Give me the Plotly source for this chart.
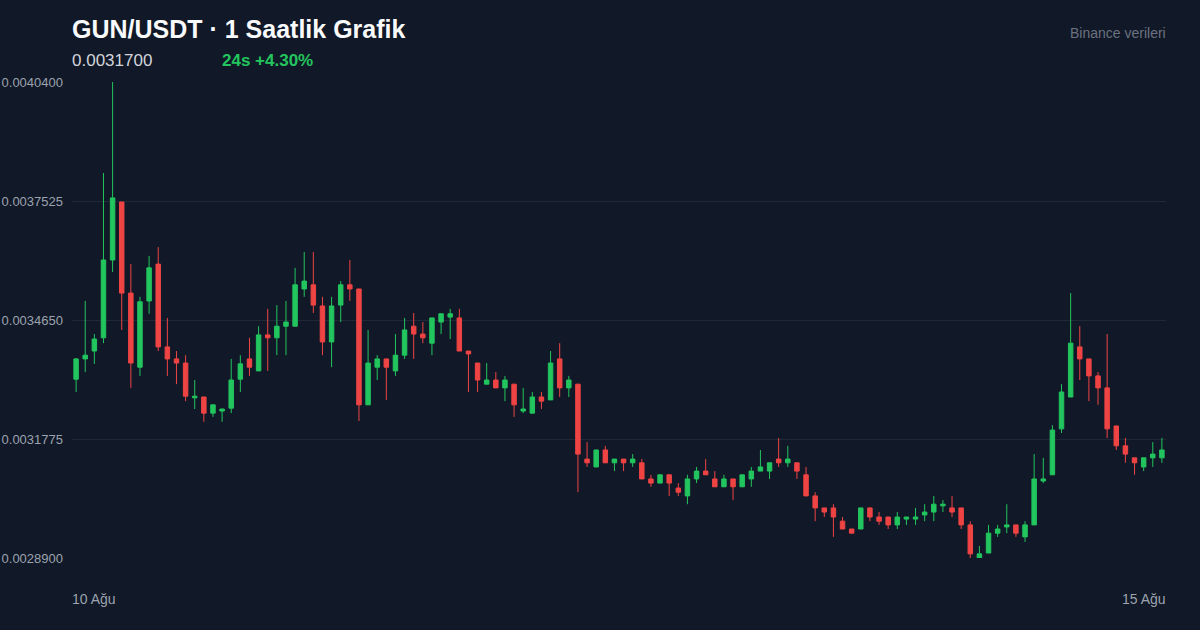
"""
GUN/USDT hourly candles - dark theme, plotly graph objects
"""

import pandas as pd
import plotly.graph_objects as go

# hourly candles, 10 Aug -> 15 Aug
open_ = [
    0.003322, 0.003371, 0.003390, 0.003422, 0.003610, 0.003750, 0.003530, 0.003351, 0.003511, 0.003600,
    0.003400, 0.003371, 0.003361, 0.003277, 0.003279, 0.003240, 0.003245, 0.003252, 0.003322, 0.003371,
    0.003342, 0.003429, 0.003422, 0.003450, 0.003450, 0.003540, 0.003550, 0.003499, 0.003412, 0.003501,
    0.003550, 0.003540, 0.003260, 0.003351, 0.003371, 0.003342, 0.003380, 0.003450, 0.003431, 0.003409,
    0.003460, 0.003472, 0.003470, 0.003390, 0.003361, 0.003310, 0.003320, 0.003301, 0.003310, 0.003245,
    0.003240, 0.003279, 0.003272, 0.003371, 0.003301, 0.003310, 0.003129, 0.003110, 0.003151, 0.003120,
    0.003129, 0.003120, 0.003120, 0.003081, 0.003071, 0.003091, 0.003059, 0.003040, 0.003081, 0.003100,
    0.003081, 0.003062, 0.003081, 0.003062, 0.003081, 0.003100, 0.003100, 0.003129, 0.003120, 0.003120,
    0.003091, 0.003040, 0.003011, 0.003011, 0.002979, 0.002960, 0.002960, 0.003011, 0.002989, 0.002989,
    0.002970, 0.002984, 0.002984, 0.002994, 0.003001, 0.003016, 0.003011, 0.003011, 0.002970, 0.002890,
    0.002902, 0.002950, 0.002965, 0.002970, 0.002941, 0.002970, 0.003076, 0.003091, 0.003202, 0.003279,
    0.003400, 0.003371, 0.003330, 0.003301, 0.003209, 0.003161, 0.003132, 0.003110, 0.003132, 0.003132,
]
high = [
    0.003373, 0.003511, 0.003431, 0.003820, 0.004040, 0.003750, 0.003600, 0.003521, 0.003620, 0.003641,
    0.003470, 0.003390, 0.003380, 0.003320, 0.003279, 0.003260, 0.003250, 0.003371, 0.003380, 0.003422,
    0.003450, 0.003492, 0.003501, 0.003511, 0.003591, 0.003629, 0.003629, 0.003521, 0.003521, 0.003559,
    0.003610, 0.003540, 0.003441, 0.003380, 0.003371, 0.003431, 0.003470, 0.003482, 0.003460, 0.003470,
    0.003480, 0.003492, 0.003492, 0.003390, 0.003361, 0.003361, 0.003339, 0.003330, 0.003310, 0.003301,
    0.003291, 0.003291, 0.003390, 0.003409, 0.003330, 0.003310, 0.003170, 0.003151, 0.003161, 0.003129,
    0.003129, 0.003141, 0.003129, 0.003091, 0.003091, 0.003091, 0.003071, 0.003091, 0.003110, 0.003129,
    0.003100, 0.003091, 0.003081, 0.003091, 0.003110, 0.003151, 0.003120, 0.003180, 0.003161, 0.003120,
    0.003110, 0.003049, 0.003011, 0.003020, 0.002989, 0.002960, 0.003011, 0.003011, 0.003001, 0.002989,
    0.003001, 0.002989, 0.003011, 0.003020, 0.003040, 0.003030, 0.003040, 0.003011, 0.002979, 0.002919,
    0.002970, 0.002970, 0.003020, 0.002970, 0.002979, 0.003141, 0.003132, 0.003211, 0.003310, 0.003530,
    0.003450, 0.003371, 0.003339, 0.003431, 0.003209, 0.003180, 0.003132, 0.003132, 0.003170, 0.003180,
]
low = [
    0.003291, 0.003339, 0.003359, 0.003409, 0.003581, 0.003441, 0.003301, 0.003330, 0.003480, 0.003390,
    0.003330, 0.003310, 0.003269, 0.003250, 0.003219, 0.003231, 0.003219, 0.003240, 0.003291, 0.003330,
    0.003342, 0.003342, 0.003380, 0.003380, 0.003450, 0.003521, 0.003482, 0.003380, 0.003351, 0.003460,
    0.003511, 0.003221, 0.003260, 0.003320, 0.003272, 0.003330, 0.003371, 0.003371, 0.003409, 0.003380,
    0.003431, 0.003419, 0.003390, 0.003291, 0.003291, 0.003310, 0.003301, 0.003269, 0.003231, 0.003240,
    0.003240, 0.003250, 0.003272, 0.003279, 0.003279, 0.003049, 0.003110, 0.003110, 0.003120, 0.003100,
    0.003100, 0.003110, 0.003081, 0.003062, 0.003071, 0.003040, 0.003040, 0.003020, 0.003071, 0.003091,
    0.003062, 0.003062, 0.003030, 0.003062, 0.003062, 0.003100, 0.003081, 0.003110, 0.003110, 0.003081,
    0.003040, 0.002979, 0.002989, 0.002941, 0.002960, 0.002950, 0.002960, 0.002979, 0.002970, 0.002960,
    0.002960, 0.002970, 0.002970, 0.002979, 0.002979, 0.003001, 0.002989, 0.002960, 0.002890, 0.002890,
    0.002902, 0.002941, 0.002950, 0.002941, 0.002929, 0.002970, 0.003071, 0.003091, 0.003192, 0.003279,
    0.003320, 0.003269, 0.003260, 0.003180, 0.003151, 0.003120, 0.003091, 0.003100, 0.003110, 0.003120,
]
close = [
    0.003371, 0.003380, 0.003419, 0.003610, 0.003760, 0.003530, 0.003361, 0.003509, 0.003591, 0.003400,
    0.003371, 0.003361, 0.003281, 0.003281, 0.003240, 0.003260, 0.003250, 0.003320, 0.003359, 0.003351,
    0.003429, 0.003422, 0.003450, 0.003460, 0.003550, 0.003559, 0.003501, 0.003412, 0.003499, 0.003550,
    0.003540, 0.003260, 0.003361, 0.003371, 0.003351, 0.003380, 0.003441, 0.003431, 0.003422, 0.003470,
    0.003480, 0.003480, 0.003390, 0.003383, 0.003320, 0.003320, 0.003301, 0.003320, 0.003260, 0.003250,
    0.003279, 0.003269, 0.003361, 0.003301, 0.003320, 0.003141, 0.003120, 0.003151, 0.003120, 0.003129,
    0.003120, 0.003129, 0.003081, 0.003071, 0.003091, 0.003071, 0.003049, 0.003081, 0.003100, 0.003091,
    0.003062, 0.003081, 0.003062, 0.003091, 0.003100, 0.003110, 0.003120, 0.003120, 0.003129, 0.003100,
    0.003040, 0.003011, 0.003001, 0.002989, 0.002960, 0.002950, 0.003011, 0.002989, 0.002979, 0.002970,
    0.002989, 0.002989, 0.002989, 0.003001, 0.003020, 0.003020, 0.003001, 0.002970, 0.002900, 0.002900,
    0.002950, 0.002960, 0.002970, 0.002950, 0.002970, 0.003081, 0.003081, 0.003199, 0.003291, 0.003409,
    0.003371, 0.003330, 0.003301, 0.003202, 0.003161, 0.003141, 0.003120, 0.003132, 0.003141, 0.003151,
]

times = pd.date_range('2025-08-10 00:00', periods=len(close), freq='h')

y_ticks = [0.0028900, 0.0031775, 0.0034650, 0.0037525, 0.0040400]
y_ticktext = ['0.0028900', '0.0031775', '0.0034650', '0.0037525', '0.0040400']

title_text = 'GUN/USDT · 1 Saatlik Grafik'
last_price = '0.0031700'
change_24h = '24s +4.30%'
source_text = 'Binance verileri'
x_start_label = '10 Ağu'
x_end_label = '15 Ağu'

BG = '#111827'
GRID = '#1f2937'
GREEN = '#22c55e'
RED = '#ef4444'
FONT = 'Liberation Sans, Arial, sans-serif'

fig = go.Figure()

fig.add_trace(go.Candlestick(
    x=times,
    open=open_,
    high=high,
    low=low,
    close=close,
    increasing=dict(line=dict(color=GREEN, width=1), fillcolor=GREEN),
    decreasing=dict(line=dict(color=RED, width=1), fillcolor=RED),
    whiskerwidth=0,
    showlegend=False,
    hoverinfo='skip',
))

# small padding so first / last candle are not cut in half
pad = pd.Timedelta(minutes=27)

fig.update_layout(
    width=1200,
    height=630,
    paper_bgcolor=BG,
    plot_bgcolor=BG,
    margin=dict(l=72, r=34, t=82, b=72),
    font=dict(family=FONT, color='#9ca3af', size=13),
    showlegend=False,
    xaxis=dict(
        range=[times[0] - pad, times[-1] + pad],
        showgrid=False,
        zeroline=False,
        showticklabels=False,
        showline=False,
        automargin=False,
        rangeslider=dict(visible=False),
    ),
    yaxis=dict(
        range=[y_ticks[0], y_ticks[-1]],
        tickvals=y_ticks,
        ticktext=y_ticktext,
        showgrid=True,
        gridcolor=GRID,
        gridwidth=1,
        zeroline=False,
        showline=False,
        automargin=False,
        ticklabelstandoff=8,
        tickfont=dict(size=13, color='#9ca3af'),
    ),
)

# header + axis end labels as annotations (paper coords)
# NOTE: annotations carry a couple px of inner padding, nudge x so text
# lines up with the plot edges (72px / 1166px)
nudge = 2 / 1094
annotations = [
    dict(text=f'<b>{title_text}</b>', x=-nudge, y=1.111, xanchor='left', yanchor='middle',
         font=dict(size=25, color='#f9fafb')),
    dict(text=last_price, x=-nudge, y=1.046, xanchor='left', yanchor='middle',
         font=dict(size=17, color='#d1d5db')),
    dict(text=f'<b>{change_24h}</b>', x=0.137 - nudge, y=1.046, xanchor='left', yanchor='middle',
         font=dict(size=17, color=GREEN)),
    dict(text=source_text, x=1 + nudge, y=1.103, xanchor='right', yanchor='middle',
         font=dict(size=14, color='#6b7280')),
    dict(text=x_start_label, x=-nudge, y=-0.086, xanchor='left', yanchor='middle',
         font=dict(size=14, color='#9ca3af')),
    dict(text=x_end_label, x=1 + nudge, y=-0.086, xanchor='right', yanchor='middle',
         font=dict(size=14, color='#9ca3af')),
]
for a in annotations:
    fig.add_annotation(xref='paper', yref='paper', showarrow=False, **a)

# drop the default page margin so the 1200x630 figure fills the window
fig.write_html(
    'out.html',
    config={'displayModeBar': False},
    post_script="document.body.style.margin='0';",
)
